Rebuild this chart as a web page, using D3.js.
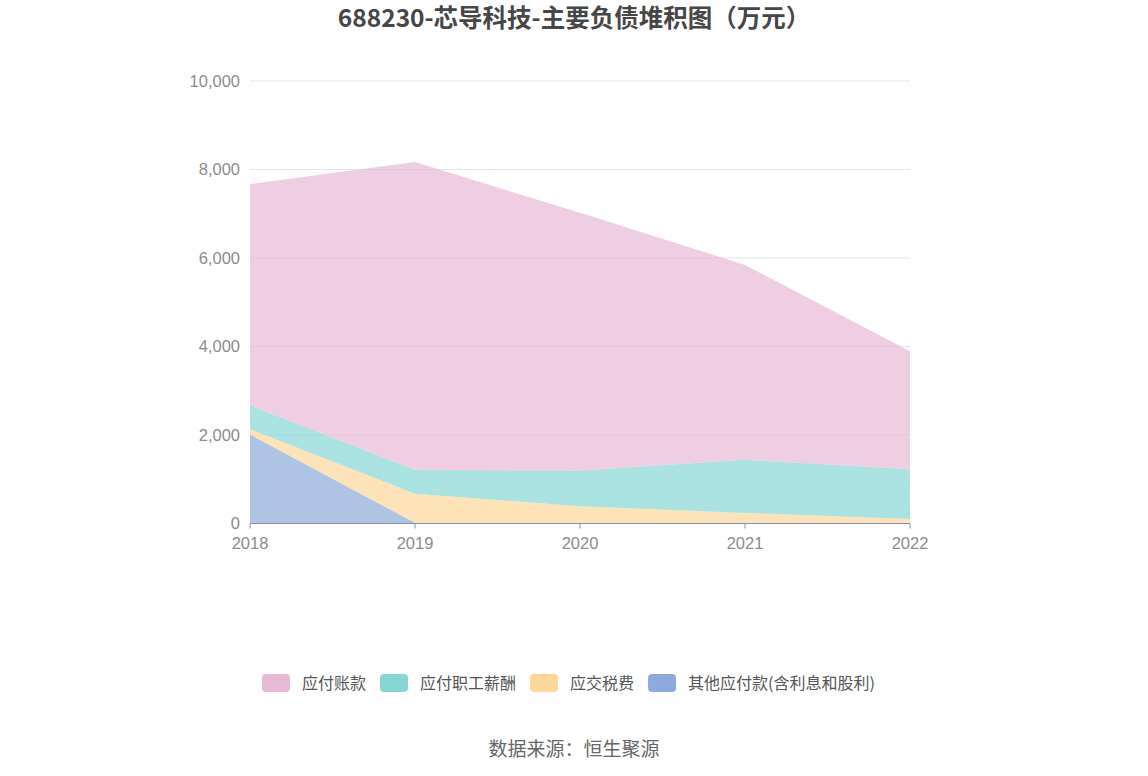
<!DOCTYPE html>
<html>
<head>
<meta charset="utf-8">
<script src="https://cdn.jsdelivr.net/npm/d3@7"></script>
<style>
  body { margin: 0; background: #fff; }
  svg text { font-family: "Noto Sans CJK SC", "Noto Sans", sans-serif; }
  svg text.num { font-family: "Liberation Sans", Arial, sans-serif; }
</style>
</head>
<body>
<div id="chart"></div>
<script>
const years = ["2018", "2019", "2020", "2021", "2022"]
const seriesNames = ["其他应付款(含利息和股利)", "应交税费", "应付职工薪酬", "应付账款"]
const otherPayables = [2010, 15, 5, 5, 5]
const taxesPayable = [120, 655, 385, 235, 95]
const staffPayables = [540, 545, 805, 1200, 1125]
const accountsPayable = [5000, 6955, 5825, 4403, 2665]
const yTicks = [0, 2000, 4000, 6000, 8000, 10000]
const legendOrder = ["应付账款", "应付职工薪酬", "应交税费", "其他应付款(含利息和股利)"]

const colors = {
  "应付账款": "#e8b8d7",
  "应付职工薪酬": "#86d6d6",
  "应交税费": "#fcd798",
  "其他应付款(含利息和股利)": "#8cabda"
}

const width = 1148, height = 776
const margin = { left: 250, right: 238, top: 81, bottom: 252.5 }

const svg = d3.select("#chart").append("svg")
  .attr("width", width)
  .attr("height", height)

// Title
svg.append("text")
  .attr("x", width / 2)
  .attr("y", 27)
  .attr("text-anchor", "middle")
  .attr("font-size", 24.5)
  .attr("font-weight", "bold")
  .attr("fill", "#464646")
  .text("688230-芯导科技-主要负债堆积图（万元）")

const x = d3.scalePoint()
  .domain(years)
  .range([margin.left, width - margin.right])

const y = d3.scaleLinear()
  .domain([0, 10000])
  .range([height - margin.bottom, margin.top])

// Grid lines
svg.append("g")
  .selectAll("line")
  .data(yTicks.filter(d => d > 0))
  .enter()
  .append("line")
  .attr("x1", margin.left)
  .attr("x2", width - margin.right)
  .attr("y1", d => y(d))
  .attr("y2", d => y(d))
  .attr("stroke", "#e0e6f1")
  .attr("stroke-width", 1)

// Y labels
svg.append("g")
  .selectAll("text")
  .data(yTicks)
  .enter()
  .append("text")
  .attr("class", "num")
  .attr("x", margin.left - 10)
  .attr("y", d => y(d))
  .attr("dy", "0.35em")
  .attr("text-anchor", "end")
  .attr("font-size", 16.5)
  .attr("fill", "#8c8c8c")
  .text(d => d3.format(",")(d))

// Stack data
const rows = years.map((yr, i) => ({
  year: yr,
  "其他应付款(含利息和股利)": otherPayables[i],
  "应交税费": taxesPayable[i],
  "应付职工薪酬": staffPayables[i],
  "应付账款": accountsPayable[i]
}))

const stacked = d3.stack().keys(seriesNames)(rows)

const area = d3.area()
  .x(d => x(d.data.year))
  .y0(d => y(d[0]))
  .y1(d => y(d[1]))

svg.append("g")
  .selectAll("path")
  .data(stacked)
  .enter()
  .append("path")
  .attr("d", area)
  .attr("fill", d => colors[d.key])
  .attr("opacity", 0.7)

// X axis
const xAxis = svg.append("g")
  .attr("transform", `translate(0,${y(0)})`)
xAxis.append("line")
  .attr("x1", margin.left)
  .attr("x2", width - margin.right)
  .attr("stroke", "#8392b0")
  .attr("stroke-width", 1)
xAxis.selectAll(".tick")
  .data(years)
  .enter()
  .append("line")
  .attr("x1", d => x(d))
  .attr("x2", d => x(d))
  .attr("y1", 0)
  .attr("y2", 5)
  .attr("stroke", "#8392b0")
xAxis.selectAll(".lbl")
  .data(years)
  .enter()
  .append("text")
  .attr("class", "num")
  .attr("x", d => x(d))
  .attr("y", 25)
  .attr("text-anchor", "middle")
  .attr("font-size", 16.5)
  .attr("fill", "#8c8c8c")
  .text(d => d)

// Legend
const legend = svg.append("g").attr("transform", "translate(0,683)")
let lx = 262
legendOrder.forEach(name => {
  const g = legend.append("g").attr("transform", `translate(${lx},0)`)
  g.append("rect")
    .attr("x", 0)
    .attr("y", -9)
    .attr("width", 28)
    .attr("height", 18)
    .attr("rx", 4)
    .attr("fill", colors[name])
  const t = g.append("text")
    .attr("x", 40)
    .attr("y", 0)
    .attr("dy", "0.35em")
    .attr("font-size", 16)
    .attr("fill", "#555")
    .text(name)
  lx += 40 + t.node().getComputedTextLength() + 14
})

// Source
svg.append("text")
  .attr("x", width / 2)
  .attr("y", 756)
  .attr("text-anchor", "middle")
  .attr("font-size", 19)
  .attr("fill", "#666")
  .text("数据来源：恒生聚源")
</script>
</body>
</html>
